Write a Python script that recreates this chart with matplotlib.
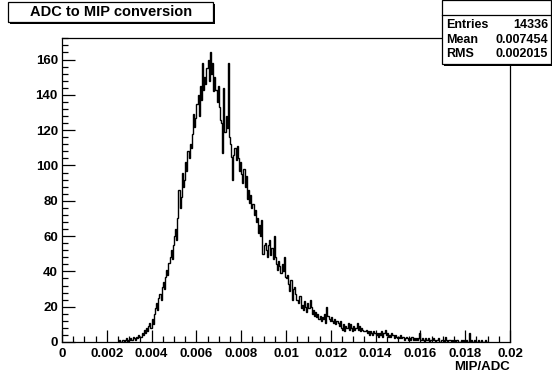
import matplotlib
matplotlib.use("Agg")
import matplotlib.pyplot as plt
import numpy as np
from matplotlib.patches import Rectangle
from matplotlib.ticker import MultipleLocator

# ---- data ----
title = "ADC to MIP conversion"
x_label = "MIP/ADC"
x_start = 0.0025      # low edge of first listed bin
bin_width = 0.00005
counts = [
    0, 1, 0, 0, 1, 0, 1, 2, 0, 1,
    1, 2, 1, 3, 2, 1, 3, 2, 4, 3,
    3, 5, 4, 7, 5, 8, 6, 9, 11, 8,
    13, 10, 16, 19, 22, 18, 25, 27, 24, 31,
    34, 30, 37, 41, 38, 45, 48, 52, 47, 55,
    60, 64, 58, 70, 86, 76, 82, 96, 88, 92,
    102, 97, 108, 104, 112, 110, 118, 129, 122, 127,
    135, 140, 128, 145, 137, 158, 143, 150, 146, 155,
    160, 148, 164, 152, 158, 142, 150, 143, 136, 145,
    133, 126, 124, 107, 144, 119, 128, 121, 158, 116,
    112, 105, 92, 106, 110, 103, 111, 104, 97, 102,
    95, 90, 98, 88, 94, 81, 86, 79, 83, 76,
    78, 72, 75, 68, 70, 62, 66, 60, 69, 50,
    55, 56, 52, 48, 55, 58, 49, 53, 47, 60,
    48, 44, 41, 46, 43, 39, 44, 40, 48, 37,
    36, 38, 33, 29, 35, 24, 30, 31, 27, 24,
    24, 22, 26, 19, 21, 18, 23, 20, 17, 22,
    19, 24, 20, 16, 18, 15, 17, 14, 16, 13,
    15, 12, 14, 13, 16, 11, 20, 15, 13, 12,
    14, 12, 11, 13, 10, 12, 11, 9, 12, 8,
    7, 10, 6, 9, 8, 11, 7, 10, 8, 6,
    9, 7, 8, 11, 7, 9, 6, 8, 7, 6,
    6, 7, 5, 6, 4, 6, 5, 4, 6, 5,
    4, 5, 3, 5, 4, 6, 3, 5, 7, 4,
    5, 3, 4, 3, 5, 4, 2, 4, 3, 2,
    3, 2, 4, 2, 3, 1, 2, 3, 2, 1,
    2, 1, 3, 1, 2, 1, 2, 1, 2, 5,
    1, 2, 1, 0, 2, 1, 1, 2, 0, 1,
    1, 2, 1, 0, 1, 1, 2, 0, 1, 1,
    1, 0, 3, 1, 0, 1, 1, 0, 1, 0,
    1, 0, 1, 1, 0, 0, 1, 0, 1, 0,
    0, 1, 0, 5, 0, 1, 0, 0, 1, 0,
    0, 1, 0, 0, 1, 0, 0, 0, 1, 0,
]
stats_labels = ["Entries", "Mean", "RMS"]
stats_values = ["14336", "0.007454", "0.002015"]
x_range = (0.0, 0.02)
y_max = 172.2

# ---- figure ----
W, H = 552, 375
fig = plt.figure(figsize=(W / 100, H / 100), dpi=100)
fig.patch.set_facecolor("white")
plt.rcParams["font.family"] = ["Liberation Sans", "DejaVu Sans"]

L, R, T, B = 62, 510, 38, 342
ax = fig.add_axes([L / W, 1 - B / H, (R - L) / W, (B - T) / H])

edges = x_start + bin_width * np.arange(len(counts) + 1)
ax.stairs(counts, edges, color="black", linewidth=1.0, baseline=0)

ax.set_xlim(*x_range)
ax.set_ylim(0, y_max)
ax.xaxis.set_major_locator(MultipleLocator(0.002))
ax.xaxis.set_minor_locator(MultipleLocator(0.0005))
ax.yaxis.set_major_locator(MultipleLocator(20))
ax.yaxis.set_minor_locator(MultipleLocator(4))
ax.tick_params(which="both", direction="in", top=False, right=False,
               width=0.9, colors="black")
ax.tick_params(which="major", length=9, labelsize=9.5, pad=3)
ax.tick_params(which="minor", length=4.5)
ax.tick_params(axis="x", which="major", pad=4)

def fmt_x(v, pos):
    if abs(v) < 1e-12:
        return "0"
    return ("%.3f" % v).rstrip("0")
ax.xaxis.set_major_formatter(plt.FuncFormatter(fmt_x))
for lab in ax.get_xticklabels() + ax.get_yticklabels():
    lab.set_fontweight("bold")
for sp in ax.spines.values():
    sp.set_linewidth(0.9)

fig.text(R / W, 1 - 367 / H, x_label, ha="right", va="center",
         fontsize=9.5, fontweight="bold")

# ---- title box with shadow ----
def px_rect(x0, y0, x1, y1, **kw):
    return Rectangle((x0 / W, 1 - y1 / H), (x1 - x0) / W, (y1 - y0) / H,
                     transform=fig.transFigure, **kw)

fig.patches.append(px_rect(10, 4, 215, 24, facecolor="black", edgecolor="none", zorder=5))
fig.patches.append(px_rect(8, 2, 213, 22, facecolor="white", edgecolor="black",
                           linewidth=0.9, zorder=6))
fig.text(111 / W, 1 - 12.5 / H, title, ha="center", va="center",
         fontsize=10.5, fontweight="bold", zorder=7)

# ---- stats box ----
fig.patches.append(px_rect(444, 2, 553, 66, facecolor="black", edgecolor="none", zorder=5))
fig.patches.append(px_rect(442, 0, 551, 64, facecolor="white", edgecolor="black",
                           linewidth=0.9, zorder=6))
fig.add_artist(plt.Line2D([442 / W, 551 / W], [1 - 15 / H, 1 - 15 / H],
                          transform=fig.transFigure, color="black", lw=0.9, zorder=7))
rows_y = [25, 40, 54]
for lab, val, yy in zip(stats_labels, stats_values, rows_y):
    fig.text(446 / W, 1 - yy / H, lab, ha="left", va="center",
             fontsize=9, fontweight="bold", zorder=8)
    fig.text(548 / W, 1 - yy / H, val, ha="right", va="center",
             fontsize=9, fontweight="bold", zorder=8)

fig.savefig("out.png", dpi=100)
